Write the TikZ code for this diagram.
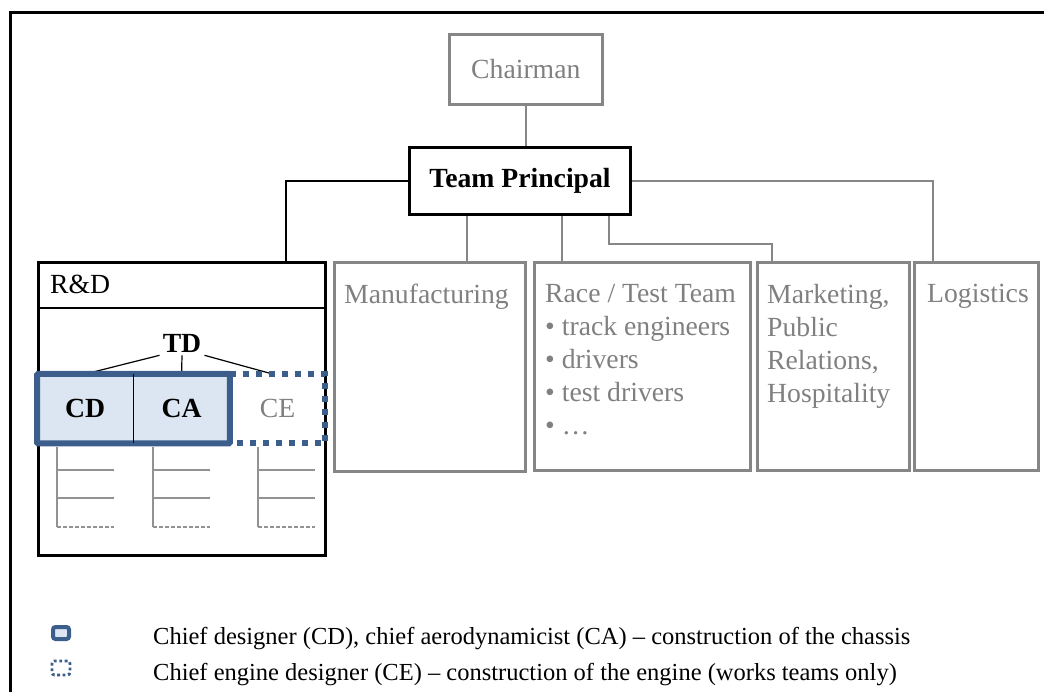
\documentclass[tikz,border=0pt]{standalone}
\usepackage{fontspec}
\setmainfont{Liberation Serif}
\usetikzlibrary{positioning}
\definecolor{boxgray}{RGB}{134,134,134}
\definecolor{txtgray}{RGB}{128,128,128}
\definecolor{cdblue}{RGB}{59,94,140}
\definecolor{cdfill}{RGB}{220,230,242}
\newcommand{\boxfont}{\fontsize{27.7}{33}\selectfont}
\newcommand{\keyfont}{\fontsize{24.5}{29}\selectfont}

\begin{document}
\begin{tikzpicture}[x=1pt, y=-1pt,
    every node/.style = { inner sep = 0pt, font = \boxfont },
    unit/.style 2 args = { draw = boxgray, line width = 2.6pt, minimum width = #1, minimum height = #2, anchor = north west },
    graytext/.style = { text = txtgray, align = left, anchor = north west },
    conn/.style = { draw = boxgray, line width = 2pt },
    cdcell/.style = { fill = cdfill, minimum width = 96pt, minimum height = 69pt, font = \boxfont\bfseries },
    sub/.style = { draw = boxgray!90, line width = 1.2pt }]
  \useasboundingbox (0,0) rectangle (1044,692);
  \draw[line width = 3pt] (10,692) -- (10,13) -- (1044,13);

  % top of the tree
  \node[unit = {153pt}{70pt}, text = txtgray] (chair) at (448,33) {Chairman};
  \node[unit = {221pt}{67pt}, draw = black, line width = 3pt, font = \boxfont\bfseries] (tp) at (408,146) {Team Principal};

  % departments
  \node[unit = {287pt}{293pt}, draw = black, line width = 3pt] (rd) at (37,261) {};
  \node[unit = {191pt}{209pt}] (man) at (333,261) {};
  \node[unit = {216pt}{208pt}] (race) at (533,261) {};
  \node[unit = {152pt}{208pt}] (mkt) at (756,261) {};
  \node[unit = {124pt}{208pt}] (log) at (913,261) {};

  \node[graytext] (mantxt) at ([xshift = 11pt, yshift = -23pt]man.north west) {Manufacturing};
  \node[graytext] (racetxt) at ([xshift = 12pt, yshift = -23pt]race.north west)
    {Race / Test Team\\• track engineers\\• drivers\\• test drivers\\• …};
  \node[graytext] (mkttxt) at ([xshift = 11pt, yshift = -23pt]mkt.north west)
    {Marketing,\\Public\\Relations,\\Hospitality};
  \node[graytext] (logtxt) at ([xshift = 14pt, yshift = -23pt]log.north west) {Logistics};

  % connectors
  \draw[conn] (chair.south) -- (chair.south |- tp.north);
  \draw[line width = 2pt] (tp.west) -| ([xshift = 249pt]rd.north west);
  \draw[conn] ([xshift = 59pt]tp.south west) coordinate (m1) -- (m1 |- man.north);
  \draw[conn] ([xshift = 154pt]tp.south west) coordinate (r1) -- (r1 |- race.north);
  \draw[conn] ([xshift = 201pt]tp.south west) -- ++(0,28) -| ([xshift = 16pt]mkt.north west);
  \draw[conn] (tp.east) -| ([xshift = 20pt]log.north west);

  % R&D inside
  \draw[line width = 2pt] ([yshift = -47pt]rd.north west) -- ([yshift = -47pt]rd.north east);
  \node[anchor = base west] (rdtxt) at ([xshift = 13pt, yshift = -33pt]rd.north west) {R\&D};
  \node[inner sep = 3pt, font = \boxfont\bfseries] (td) at (182,343) {TD};
  \node[cdcell, anchor = north west] (cd) at (37,374) {CD};
  \node[cdcell, right = 0pt of cd] (ca) {CA};
  \node[minimum width = 95pt, minimum height = 69pt, right = 0pt of ca, text = txtgray] (ce) {CE};

  \draw[line width = 1.2pt] (td.south west) -- (cd.north);
  \draw[line width = 1.2pt] (td.south) -- (ca.north);
  \draw[line width = 1.2pt] (td.south east) -- ([xshift = -5pt]ce.north);

  \draw[cdblue, line width = 6pt, rounded corners = 1pt] (cd.north west) rectangle (ca.south east);
  \draw[line width = 1.5pt] (cd.north east) -- (cd.south east);
  \draw[cdblue, line width = 6pt, dash pattern = on 6pt off 7pt]
    (ce.north west) -- (ce.north east) -- (ce.south east) -- (ce.south west);

  \foreach \x in {57,153,258} {
    \draw[sub] (\x,447) -- (\x,527);
    \draw[sub] (\x,470) -- ++(57,0);
    \draw[sub] (\x,498) -- ++(57,0);
    \draw[sub, dash pattern = on 4pt off 2pt] (\x,527) -- ++(57,0);
  }

  % legend
  \node[draw = cdblue, fill = cdfill, line width = 4pt, rounded corners = 2.5pt,
        minimum width = 16pt, minimum height = 12pt] (keycd) at (61,633) {};
  \node[draw = cdblue, line width = 2.8pt, dash pattern = on 2.8pt off 2.6pt, rounded corners = 2.5pt,
        minimum width = 18pt, minimum height = 14pt] (keyce) at (61,668) {};
  \node[anchor = west, font = \keyfont] (keycdtxt) at (153,639)
    {Chief designer (CD), chief aerodynamicist (CA) – construction of the chassis};
  \node[anchor = west, font = \keyfont] (keycetxt) at (153,675)
    {Chief engine designer (CE) – construction of the engine (works teams only)};
\end{tikzpicture}
\end{document}
